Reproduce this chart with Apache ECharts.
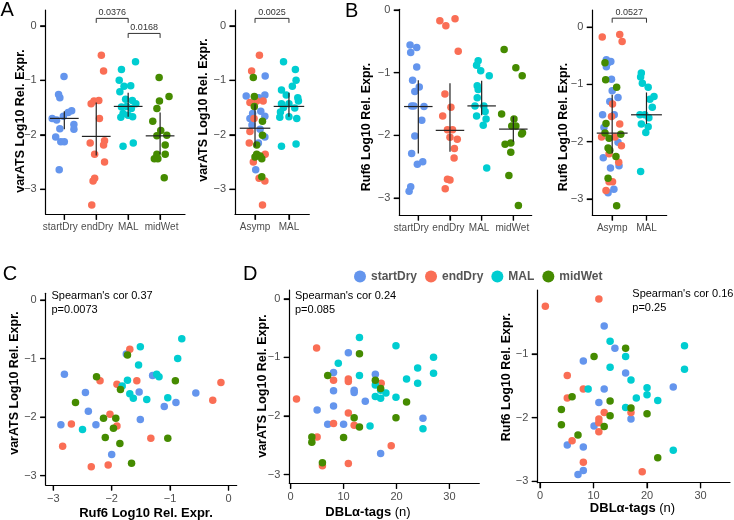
<!DOCTYPE html>
<html>
<head>
<meta charset="utf-8">
<script src="https://cdn.jsdelivr.net/npm/echarts@6/dist/echarts.min.js"></script>
<style>
html, body { margin: 0; padding: 0; background: #fff; }
#main { width: 734px; height: 520px; }
</style>
</head>
<body>
<div id="main"></div>
<script>
// groups and colours
var groups = ['startDry', 'endDry', 'MAL', 'midWet'];
var groupColors = ['#6495ED', '#FA6E55', '#00CDD1', '#458B00'];

// tick labels
var logTicks = [0, -1, -2, -3];
var logTicksNoZero = [-1, -2, -3];
var ruf6Ticks = [-3, -2, -1, 0];
var tagTicks = [0, 10, 20, 30];
var stripCats4 = ['startDry', 'endDry', 'MAL', 'midWet'];
var stripCats2 = ['Asymp', 'MAL'];

// A: varATS by season, [group, jitter, log10 expr]
var a1Points = [
    ['startDry', -0.01, -0.93], ['startDry', -0.18, -1.26], ['startDry', -0.14, -1.32], ['startDry', 0.23, -1.56],
    ['startDry', 0.12, -1.59], ['startDry', -0.03, -1.66], ['startDry', -0.38, -1.70], ['startDry', -0.24, -1.73],
    ['startDry', 0.30, -1.81], ['startDry', -0.14, -1.89], ['startDry', 0.30, -1.90], ['startDry', -0.27, -2.04],
    ['startDry', -0.11, -2.13], ['startDry', 0.00, -2.13], ['startDry', -0.16, -2.64],
    ['endDry', 0.16, -0.54], ['endDry', 0.23, -0.83], ['endDry', -0.16, -1.43], ['endDry', -0.07, -1.38],
    ['endDry', 0.08, -1.37], ['endDry', 0.10, -1.70], ['endDry', -0.19, -2.15], ['endDry', -0.05, -2.36],
    ['endDry', 0.26, -2.11], ['endDry', 0.23, -2.19], ['endDry', 0.26, -2.50], ['endDry', -0.05, -2.80],
    ['endDry', -0.10, -2.85], ['endDry', -0.14, -3.29],
    ['MAL', 0.23, -0.66], ['MAL', -0.21, -0.80], ['MAL', -0.28, -1.00], ['MAL', -0.13, -1.11],
    ['MAL', 0.08, -1.10], ['MAL', -0.26, -1.21], ['MAL', -0.08, -1.35], ['MAL', 0.13, -1.37],
    ['MAL', 0.24, -1.43], ['MAL', -0.21, -1.49], ['MAL', -0.05, -1.48], ['MAL', 0.10, -1.52],
    ['MAL', -0.16, -1.61], ['MAL', 0.00, -1.64], ['MAL', -0.23, -1.68], ['MAL', 0.14, -1.67],
    ['MAL', 0.16, -2.15], ['MAL', -0.16, -2.21],
    ['midWet', -0.03, -0.95], ['midWet', 0.28, -1.30], ['midWet', -0.02, -1.38], ['midWet', -0.10, -1.52],
    ['midWet', -0.23, -1.75], ['midWet', 0.02, -1.92], ['midWet', 0.21, -2.01], ['midWet', -0.10, -2.02],
    ['midWet', 0.16, -2.19], ['midWet', -0.10, -2.36], ['midWet', 0.16, -2.36], ['midWet', -0.18, -2.44],
    ['midWet', -0.07, -2.44], ['midWet', 0.13, -2.79]
];
// [group, median, upper, lower]
var a1Summary = [
    ['startDry', -1.70, -1.57, -1.90], ['endDry', -2.03, -1.41, -2.38],
    ['MAL', -1.48, -1.23, -1.67], ['midWet', -2.02, -1.59, -2.36]
];
// [from, to, level, p]
var a1Brackets = [[2, 3, 0.136, '0.0376'], [3, 4, -0.14, '0.0168']];

// A: varATS asymptomatic vs clinical
var a2Points = [
    ['endDry', 0.13, -0.54], ['endDry', -0.10, -0.83], ['midWet', -0.05, -0.95], ['startDry', 0.30, -0.92],
    ['startDry', -0.26, -1.29], ['midWet', -0.02, -1.30], ['startDry', 0.11, -1.32], ['startDry', 0.29, -1.27],
    ['endDry', 0.05, -1.38], ['endDry', 0.24, -1.38], ['endDry', -0.15, -1.41], ['midWet', -0.02, -1.48],
    ['startDry', 0.17, -1.57], ['startDry', -0.07, -1.61], ['startDry', -0.15, -1.70], ['endDry', -0.03, -1.70],
    ['startDry', 0.29, -1.66], ['midWet', 0.22, -1.75], ['startDry', -0.09, -1.82], ['endDry', -0.15, -1.94],
    ['startDry', 0.15, -1.90], ['midWet', 0.22, -2.01], ['startDry', 0.29, -2.04], ['endDry', -0.17, -2.15],
    ['startDry', 0.10, -2.15], ['midWet', 0.05, -2.19], ['midWet', 0.05, -2.36], ['midWet', 0.00, -2.41],
    ['midWet', 0.15, -2.39], ['midWet', 0.20, -2.44], ['endDry', 0.30, -2.36], ['endDry', -0.05, -2.50],
    ['startDry', 0.02, -2.64], ['midWet', 0.20, -2.77], ['endDry', 0.12, -2.80], ['endDry', 0.29, -2.85],
    ['endDry', 0.22, -3.29],
    ['MAL', -0.16, -0.66], ['MAL', 0.19, -0.80], ['MAL', 0.21, -1.00], ['MAL', 0.10, -1.11],
    ['MAL', -0.22, -1.18], ['MAL', -0.08, -1.27], ['MAL', 0.26, -1.32], ['MAL', 0.28, -1.38],
    ['MAL', -0.22, -1.43], ['MAL', 0.00, -1.43], ['MAL', 0.17, -1.51], ['MAL', -0.16, -1.50],
    ['MAL', -0.25, -1.58], ['MAL', 0.00, -1.67], ['MAL', -0.27, -1.68], ['MAL', 0.23, -1.70],
    ['MAL', -0.22, -2.21], ['MAL', 0.21, -2.17]
];
var a2Summary = [['Asymp', -1.88, -1.44, -2.22], ['MAL', -1.48, -1.23, -1.67]];
var a2Brackets = [[1, 2, 0.136, '0.0025']];

// B: Ruf6 by season
var b1Points = [
    ['startDry', -0.26, -0.56], ['startDry', -0.05, -0.60], ['startDry', -0.24, -0.68], ['startDry', -0.05, -0.91],
    ['startDry', -0.18, -1.12], ['startDry', 0.03, -1.23], ['startDry', -0.11, -1.30], ['startDry', -0.21, -1.53],
    ['startDry', -0.14, -1.53], ['startDry', 0.18, -1.54], ['startDry', 0.11, -1.76], ['startDry', -0.11, -2.01],
    ['startDry', -0.21, -2.29], ['startDry', 0.14, -2.42], ['startDry', -0.03, -2.46], ['startDry', -0.24, -2.82],
    ['startDry', -0.29, -2.89],
    ['endDry', -0.32, -0.17], ['endDry', -0.13, -0.25], ['endDry', 0.16, -0.14], ['endDry', 0.26, -0.66],
    ['endDry', -0.16, -1.34], ['endDry', 0.03, -1.55], ['endDry', -0.23, -1.69], ['endDry', -0.08, -1.91],
    ['endDry', 0.08, -1.91], ['endDry', 0.00, -2.03], ['endDry', 0.23, -2.06], ['endDry', 0.14, -2.21],
    ['endDry', 0.13, -2.36], ['endDry', -0.08, -2.70], ['endDry', 0.00, -2.71], ['endDry', -0.15, -2.85],
    ['MAL', -0.11, -0.81], ['MAL', -0.16, -0.88], ['MAL', -0.03, -0.97], ['MAL', 0.24, -1.05],
    ['MAL', -0.14, -1.21], ['MAL', -0.11, -1.27], ['MAL', -0.14, -1.40], ['MAL', -0.21, -1.53],
    ['MAL', 0.07, -1.53], ['MAL', 0.11, -1.62], ['MAL', -0.16, -1.69], ['MAL', 0.14, -1.74],
    ['MAL', 0.05, -1.84], ['MAL', 0.16, -2.52],
    ['midWet', -0.29, -0.63], ['midWet', 0.08, -0.92], ['midWet', 0.28, -1.05], ['midWet', -0.37, -1.66],
    ['midWet', 0.02, -1.74], ['midWet', -0.05, -1.85], ['midWet', 0.08, -1.85], ['midWet', 0.29, -1.96],
    ['midWet', 0.26, -1.98], ['midWet', -0.26, -2.14], ['midWet', -0.08, -2.12], ['midWet', -0.08, -2.27],
    ['midWet', -0.14, -2.64], ['midWet', 0.16, -3.12]
];
var b1Summary = [
    ['startDry', -1.54, -1.12, -2.29], ['endDry', -1.92, -1.17, -2.26],
    ['MAL', -1.53, -1.13, -1.68], ['midWet', -1.90, -1.70, -2.10]
];

// B: Ruf6 asymptomatic vs clinical
var b2Points = [
    ['endDry', -0.29, -0.17], ['endDry', 0.22, -0.13], ['endDry', 0.29, -0.25], ['startDry', -0.17, -0.57],
    ['startDry', -0.12, -0.62], ['startDry', -0.04, -0.60], ['startDry', -0.17, -0.69], ['midWet', -0.21, -0.62],
    ['midWet', -0.19, -0.92], ['startDry', -0.02, -0.91], ['midWet', 0.13, -1.05], ['startDry', 0.00, -1.11],
    ['startDry', 0.17, -1.23], ['startDry', -0.07, -1.30], ['endDry', 0.01, -1.34], ['startDry', -0.28, -1.53],
    ['startDry', 0.06, -1.53], ['endDry', -0.02, -1.56], ['startDry', -0.24, -1.75], ['midWet', -0.18, -1.68],
    ['endDry', 0.22, -1.69], ['midWet', -0.21, -1.85], ['endDry', -0.31, -1.92], ['midWet', -0.09, -1.94],
    ['endDry', 0.08, -1.92], ['midWet', 0.25, -1.87], ['startDry', 0.17, -2.01], ['endDry', 0.27, -2.07],
    ['midWet', -0.12, -2.11], ['midWet', -0.07, -2.15], ['endDry', -0.09, -2.21], ['midWet', 0.11, -2.26],
    ['startDry', -0.26, -2.28], ['endDry', 0.19, -2.36], ['startDry', 0.20, -2.42], ['startDry', -0.05, -2.46],
    ['midWet', -0.12, -2.64], ['endDry', -0.09, -2.70], ['endDry', 0.01, -2.70], ['endDry', -0.18, -2.85],
    ['startDry', -0.12, -2.89], ['startDry', 0.05, -2.83], ['midWet', 0.13, -3.12],
    ['MAL', -0.17, -0.87], ['MAL', -0.15, -0.80], ['MAL', -0.12, -0.98], ['MAL', 0.05, -1.05],
    ['MAL', 0.10, -1.26], ['MAL', 0.22, -1.21], ['MAL', 0.17, -1.40], ['MAL', -0.19, -1.53],
    ['MAL', -0.05, -1.53], ['MAL', 0.07, -1.58], ['MAL', -0.15, -1.69], ['MAL', 0.05, -1.74],
    ['MAL', -0.02, -1.84], ['MAL', -0.17, -2.52]
];
var b2Summary = [['Asymp', -1.85, -1.18, -2.20], ['MAL', -1.53, -1.14, -1.69]];
var b2Brackets = [[1, 2, 0.157, '0.0527']];

// C: Ruf6 (x) vs varATS (y)
var cPoints = [
    ['startDry', -2.81, -1.27], ['startDry', -2.45, -1.58], ['startDry', -2.40, -1.90], ['startDry', -2.87, -2.13],
    ['startDry', -2.27, -2.13], ['startDry', -1.75, -0.92], ['startDry', -2.00, -2.64], ['startDry', -1.53, -1.57],
    ['startDry', -1.51, -2.04], ['startDry', -1.30, -1.29], ['startDry', -1.10, -1.82], ['startDry', -0.90, -1.75],
    ['startDry', -0.56, -1.59],
    ['MAL', -0.80, -0.66], ['MAL', -1.51, -0.80], ['MAL', -0.87, -1.00], ['MAL', -1.54, -1.11],
    ['MAL', -1.73, -1.37], ['MAL', -1.82, -1.47], ['MAL', -2.50, -2.21], ['MAL', -1.69, -1.60],
    ['MAL', -1.63, -1.68], ['MAL', -1.40, -1.70], ['MAL', -1.23, -1.27], ['MAL', -1.19, -1.31],
    ['MAL', -1.04, -1.67],
    ['endDry', -1.69, -0.84], ['endDry', -2.20, -1.38], ['endDry', -1.91, -1.44], ['endDry', -1.57, -1.38],
    ['endDry', -0.27, -1.71], ['endDry', -0.13, -1.41], ['endDry', -2.69, -2.12], ['endDry', -2.03, -1.95],
    ['endDry', -1.91, -2.15], ['endDry', -2.84, -2.50], ['endDry', -2.35, -2.85], ['endDry', -2.06, -2.82],
    ['endDry', -1.33, -2.36],
    ['midWet', -2.26, -1.31], ['midWet', -1.73, -0.94], ['midWet', -1.85, -1.53], ['midWet', -0.91, -1.38],
    ['midWet', -2.62, -1.75], ['midWet', -2.14, -2.02], ['midWet', -1.93, -2.02], ['midWet', -1.97, -2.19],
    ['midWet', -2.11, -2.35], ['midWet', -1.86, -2.45], ['midWet', -1.04, -2.36], ['midWet', -1.66, -2.79]
];

// D: DBLα tags (x) vs varATS (y)
var d1Points = [
    ['endDry', 1.1, -1.71], ['endDry', 4.9, -0.84], ['endDry', 5.0, -2.36], ['endDry', 6.0, -2.85],
    ['endDry', 8.1, -1.39], ['endDry', 8.1, -2.13], ['endDry', 10.9, -1.37], ['endDry', 10.9, -1.41],
    ['endDry', 10.9, -1.95], ['endDry', 12.0, -2.16], ['endDry', 10.9, -2.81], ['endDry', 17.1, -1.44],
    ['endDry', 19.0, -2.51],
    ['startDry', 5.0, -1.90], ['startDry', 7.0, -2.14], ['startDry', 8.1, -1.26], ['startDry', 8.1, -1.57],
    ['startDry', 8.1, -1.83], ['startDry', 10.0, -2.14], ['startDry', 10.9, -0.92], ['startDry', 12.0, -1.56],
    ['startDry', 12.0, -1.60], ['startDry', 14.1, -1.75], ['startDry', 16.0, -1.29], ['startDry', 17.0, -2.64],
    ['startDry', 25.0, -2.04],
    ['MAL', 13.0, -0.66], ['MAL', 9.0, -1.10], ['MAL', 13.0, -1.31], ['MAL', 16.0, -1.47],
    ['MAL', 16.0, -1.67], ['MAL', 17.0, -1.70], ['MAL', 17.0, -1.56], ['MAL', 18.0, -1.61],
    ['MAL', 19.9, -0.80], ['MAL', 19.9, -1.68], ['MAL', 21.9, -1.37], ['MAL', 24.0, -1.18],
    ['MAL', 24.0, -1.44], ['MAL', 27.0, -1.00], ['MAL', 27.0, -1.27], ['MAL', 15.0, -2.17],
    ['MAL', 25.0, -2.22],
    ['midWet', 7.0, -1.31], ['midWet', 13.0, -0.94], ['midWet', 16.0, -1.39], ['midWet', 17.0, -1.53],
    ['midWet', 21.9, -1.76], ['midWet', 12.0, -2.03], ['midWet', 13.0, -2.19], ['midWet', 19.9, -2.03],
    ['midWet', 4.0, -2.36], ['midWet', 4.0, -2.45], ['midWet', 10.0, -2.37], ['midWet', 6.0, -2.80]
];

// D: DBLα tags (x) vs Ruf6 (y)
var d2Points = [
    ['endDry', 1.0, -0.25], ['endDry', 11.0, -0.14], ['endDry', 5.1, -1.34], ['endDry', 8.1, -1.55],
    ['endDry', 5.1, -1.69], ['endDry', 6.0, -2.36], ['endDry', 12.0, -1.92], ['endDry', 11.0, -2.02],
    ['endDry', 11.0, -2.08], ['endDry', 11.0, -2.22], ['endDry', 8.1, -2.70], ['endDry', 17.0, -1.92],
    ['endDry', 19.1, -2.85],
    ['startDry', 12.0, -0.56], ['startDry', 14.0, -0.91], ['startDry', 8.1, -1.11], ['startDry', 16.0, -1.30],
    ['startDry', 12.0, -1.55], ['startDry', 11.0, -1.76], ['startDry', 24.9, -1.52], ['startDry', 17.0, -2.02],
    ['startDry', 10.1, -2.13], ['startDry', 5.1, -2.43], ['startDry', 8.1, -2.46], ['startDry', 8.1, -2.83],
    ['startDry', 7.1, -2.89],
    ['MAL', 13.1, -0.80], ['MAL', 27.0, -0.87], ['MAL', 16.0, -1.04], ['MAL', 13.1, -1.21],
    ['MAL', 27.0, -1.24], ['MAL', 17.0, -1.41], ['MAL', 9.0, -1.55], ['MAL', 20.0, -1.53],
    ['MAL', 20.0, -1.64], ['MAL', 18.0, -1.69], ['MAL', 22.0, -1.73], ['MAL', 16.0, -1.84],
    ['MAL', 24.9, -2.51],
    ['midWet', 16.0, -0.91], ['midWet', 10.1, -1.04], ['midWet', 6.0, -1.67], ['midWet', 13.1, -1.74],
    ['midWet', 17.0, -1.85], ['midWet', 20.0, -1.94], ['midWet', 4.0, -1.87], ['midWet', 4.0, -2.11],
    ['midWet', 13.1, -1.97], ['midWet', 12.0, -2.14], ['midWet', 7.1, -2.27], ['midWet', 22.0, -2.63]
];

var FONT = '"Liberation Sans", Arial, Helvetica, sans-serif';
var LABEL_GREY = '#4d4d4d';
var TICK_LEN = 5.5;

function numFmt(v) {
    return v < 0 ? '\u2212' + Math.abs(v) : String(v);
}

function valueAxis(gi, min, max, ticks, fmt, size, margin, showLabels) {
    return {
        type: 'value', gridIndex: gi, min: min, max: max,
        axisLine: { show: true, onZero: false, lineStyle: { color: '#000', width: 1.2 } },
        axisTick: { show: true, customValues: ticks, length: TICK_LEN, lineStyle: { color: '#000', width: 1.2 } },
        axisLabel: {
            show: showLabels !== false,
            customValues: ticks, formatter: fmt, color: LABEL_GREY, fontSize: size, fontFamily: FONT,
            margin: margin, hideOverlap: false
        },
        splitLine: { show: false }
    };
}

// strip panels: value axis with ticks at column centres, labels drawn by catLabelSeries
function catAxis(gi, min, max, names) {
    var ticks = names.map(function (n, i) { return i + 1; });
    return valueAxis(gi, min, max, ticks, null, 10, 8, false);
}

// column of a group inside a strip panel
function colOf(g, two) {
    if (two) return g === 'MAL' ? 2 : 1;
    return groups.indexOf(g) + 1;
}

function pointSeries(points, gi, strip, two) {
    return groups.map(function (g, k) {
        return {
            name: g, type: 'scatter', xAxisIndex: gi, yAxisIndex: gi,
            symbolSize: 7.5, z: 2,
            itemStyle: { color: groupColors[k], opacity: 1 },
            emphasis: { disabled: true },
            data: points.filter(function (p) { return p[0] === g; }).map(function (p) {
                return strip ? [colOf(g, two) + p[1], p[2]] : [p[1], p[2]];
            })
        };
    });
}

// tick marks drawn outside the axis lines
function tickSeries(gi, xTicks, yTicks, xMin, yMin) {
    var data = xTicks.map(function (v) { return [v, yMin, 0]; })
        .concat(yTicks.map(function (v) { return [xMin, v, 1]; }));
    return {
        type: 'custom', xAxisIndex: gi, yAxisIndex: gi, z: 5, silent: true, clip: false,
        data: data,
        renderItem: function (params, api) {
            var p = api.coord([api.value(0), api.value(1)]);
            var vertical = api.value(2) === 0;
            return {
                type: 'line',
                shape: vertical ? { x1: p[0], y1: p[1], x2: p[0], y2: p[1] + TICK_LEN }
                                : { x1: p[0], y1: p[1], x2: p[0] - TICK_LEN, y2: p[1] },
                style: { stroke: '#000', lineWidth: 1.2 }
            };
        }
    };
}

// category names under the strip panels (nudge = px shift of each label)
function catLabelSeries(gi, names, yMin, nudge) {
    return {
        type: 'custom', xAxisIndex: gi, yAxisIndex: gi, z: 5, silent: true, clip: false,
        data: names.map(function (n, i) { return [i + 1, yMin]; }),
        renderItem: function (params, api) {
            var p = api.coord([api.value(0), api.value(1)]);
            return {
                type: 'text', x: p[0] + (nudge ? nudge[params.dataIndex] : 0), y: p[1] + 8,
                style: { text: names[params.dataIndex], fontSize: 10, fontFamily: FONT, fill: LABEL_GREY,
                         textAlign: 'center', textVerticalAlign: 'top', align: 'center', verticalAlign: 'top' }
            };
        }
    };
}

function summarySeries(rows, gi, names) {
    return {
        type: 'custom', xAxisIndex: gi, yAxisIndex: gi, z: 3, silent: true,
        data: rows.map(function (r) { return [names.indexOf(r[0]) + 1, r[1], r[2], r[3]]; }),
        renderItem: function (params, api) {
            var c = api.value(0), m = api.value(1);
            var a = api.coord([c - 0.45, m]), b = api.coord([c + 0.45, m]);
            var t = api.coord([c, api.value(2)]), u = api.coord([c, api.value(3)]);
            var st = { stroke: '#222', lineWidth: 1.2 };
            return {
                type: 'group', children: [
                    { type: 'line', shape: { x1: a[0], y1: a[1], x2: b[0], y2: b[1] }, style: st },
                    { type: 'line', shape: { x1: t[0], y1: t[1], x2: u[0], y2: u[1] }, style: st }
                ]
            };
        }
    };
}

function bracketSeries(rows, gi) {
    return {
        type: 'custom', xAxisIndex: gi, yAxisIndex: gi, z: 4, silent: true,
        data: rows.map(function (r) { return [r[0], r[2], r[1]]; }),
        renderItem: function (params, api) {
            var a = api.coord([api.value(0), api.value(1)]);
            var b = api.coord([api.value(2), api.value(1)]);
            return {
                type: 'group', children: [
                    { type: 'polyline', shape: { points: [[a[0], a[1] + 4.5], [a[0], a[1]], [b[0], b[1]], [b[0], b[1] + 4.5]] },
                      style: { stroke: '#333', fill: null, lineWidth: 1 } },
                    { type: 'text', x: (a[0] + b[0]) / 2, y: a[1] - 1.5,
                      style: { text: rows[params.dataIndex][3], fontSize: 9, fontFamily: FONT, fill: '#333',
                               textAlign: 'center', textVerticalAlign: 'bottom', align: 'center', verticalAlign: 'bottom' } }
                ]
            };
        }
    };
}

function label(text, x, y, opts) {
    opts = opts || {};
    return {
        type: 'text', x: x, y: y, rotation: opts.rot || 0, silent: true,
        style: {
            text: text, fill: opts.color || '#000', fontFamily: FONT,
            fontSize: opts.size || 12.5, fontWeight: opts.weight || 'bold',
            lineHeight: opts.lh, rich: opts.rich,
            textAlign: opts.align || 'center', align: opts.align || 'center',
            textVerticalAlign: opts.valign || 'middle', verticalAlign: opts.valign || 'middle'
        }
    };
}

var chart = echarts.init(document.getElementById('main'));

var grids = [
    { left: 45.7, top: 10, width: 139.3, height: 204.3 },
    { left: 235, top: 10, width: 74.3, height: 204.3 },
    { left: 399.3, top: 9.3, width: 132.4, height: 205.7 },
    { left: 592.3, top: 10, width: 74.4, height: 205 },
    { left: 45.7, top: 293.3, width: 191, height: 191.7 },
    { left: 289.3, top: 290, width: 190, height: 193.3 },
    { left: 537.3, top: 290, width: 192.7, height: 192.7 }
];

// [xMin, xMax, yMin, yMax] per panel
var ranges = [
    [0.417, 4.78, -3.46, 0.29],
    [0.41, 2.6, -3.46, 0.29],
    [0.4, 4.58, -3.27, 0.011],
    [0.42, 2.59, -3.28, 0.30],
    [-3.13, 0.14, -3.16, 0.115],
    [-0.26, 35.65, -3.15, 0.15],
    [-0.5, 35.5, -3.02, 0.003]
];
var xTickSets = [[1, 2, 3, 4], [1, 2], [1, 2, 3, 4], [1, 2], ruf6Ticks, tagTicks, tagTicks];
var yTickSets = [logTicks, logTicks, logTicks, logTicks, logTicks, logTicks, logTicksNoZero];

var xAxes = [
    catAxis(0, ranges[0][0], ranges[0][1], stripCats4),
    catAxis(1, ranges[1][0], ranges[1][1], stripCats2),
    catAxis(2, ranges[2][0], ranges[2][1], stripCats4),
    catAxis(3, ranges[3][0], ranges[3][1], stripCats2),
    valueAxis(4, ranges[4][0], ranges[4][1], ruf6Ticks, numFmt, 11, 8),
    valueAxis(5, ranges[5][0], ranges[5][1], tagTicks, numFmt, 11, 8),
    valueAxis(6, ranges[6][0], ranges[6][1], tagTicks, numFmt, 11, 8)
];

var yAxes = ranges.map(function (r, i) {
    return valueAxis(i, r[2], r[3], yTickSets[i], numFmt, 11, 9);
});

var series = [].concat(
    pointSeries(a1Points, 0, true, false),
    pointSeries(a2Points, 1, true, true),
    pointSeries(b1Points, 2, true, false),
    pointSeries(b2Points, 3, true, true),
    pointSeries(cPoints, 4, false, false),
    pointSeries(d1Points, 5, false, false),
    pointSeries(d2Points, 6, false, false),
    [
        summarySeries(a1Summary, 0, stripCats4),
        summarySeries(a2Summary, 1, stripCats2),
        summarySeries(b1Summary, 2, stripCats4),
        summarySeries(b2Summary, 3, stripCats2),
        bracketSeries(a1Brackets, 0),
        bracketSeries(a2Brackets, 1),
        bracketSeries(b2Brackets, 3),
        catLabelSeries(0, stripCats4, ranges[0][2], [-4, 1, 0, 1.5]),
        catLabelSeries(1, stripCats2, ranges[1][2]),
        catLabelSeries(2, stripCats4, ranges[2][2], [-7, -1.5, -2.5, -1]),
        catLabelSeries(3, stripCats2, ranges[3][2])
    ],
    ranges.map(function (r, i) {
        return tickSeries(i, xTickSets[i], yTickSets[i], r[0], r[2]);
    })
);

var yTitleA = 'varATS Log10 Rel. Expr.';
var yTitleB = 'Ruf6 Log10 Rel. Expr.';
var tagRich = { b: { fontWeight: 'bold', fontSize: 13, fontFamily: FONT }, n: { fontWeight: 'normal', fontSize: 13, fontFamily: FONT } };
var R = Math.PI / 2;

var option = {
    animation: false,
    textStyle: { fontFamily: FONT },
    grid: grids,
    xAxis: xAxes,
    yAxis: yAxes,
    legend: {
        data: groups, left: 349, top: 265.5, itemWidth: 12, itemHeight: 12, itemGap: 8,
        icon: 'circle', selectedMode: false,
        textStyle: { color: '#555', fontWeight: 'bold', fontSize: 12, fontFamily: FONT }
    },
    graphic: [
        label('A', 0.5, 10, { size: 20, weight: 'normal', align: 'left' }),
        label('B', 345, 11.7, { size: 20, weight: 'normal', align: 'left' }),
        label('C', 2.7, 274.5, { size: 20, weight: 'normal', align: 'left' }),
        label('D', 243, 274, { size: 20, weight: 'normal', align: 'left' }),
        label(yTitleA, 21, 121, { rot: R }),
        label(yTitleA, 204, 110, { rot: R }),
        label(yTitleB, 367, 127, { rot: R }),
        label(yTitleB, 563.5, 127, { rot: R }),
        label(yTitleA, 15, 383, { rot: R }),
        label(yTitleA, 263, 386, { rot: R }),
        label(yTitleB, 507, 377, { rot: R }),
        label(yTitleB, 146, 513, { size: 13 }),
        label('{b|DBLα-tags} {n|(n)}', 368, 512, { rich: tagRich, size: 13 }),
        label('{b|DBLα-tags} {n|(n)}', 632.5, 508.3, { rich: tagRich, size: 13 }),
        label("Spearman's cor 0.37\np=0.0073", 51.5, 288.5, { size: 11, weight: 'normal', align: 'left', valign: 'top', lh: 14 }),
        label("Spearman's cor 0.24\np=0.085", 295, 288.5, { size: 11, weight: 'normal', align: 'left', valign: 'top', lh: 14 }),
        label("Spearman's cor 0.16\np=0.25", 632.3, 287, { size: 11, weight: 'normal', align: 'left', valign: 'top', lh: 14 })
    ],
    series: series
};

chart.setOption(option);
</script>
</body>
</html>
